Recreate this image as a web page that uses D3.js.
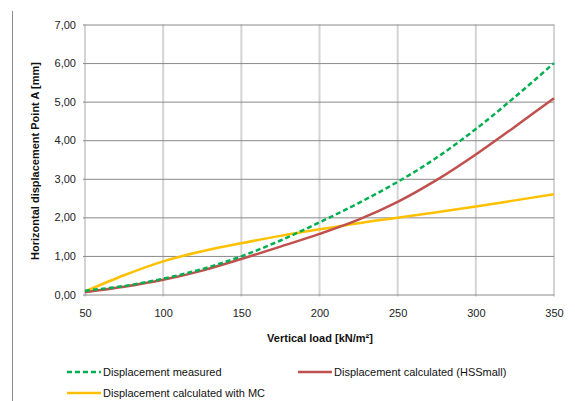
<!DOCTYPE html>
<html>
<head>
<meta charset="utf-8">
<script src="https://cdnjs.cloudflare.com/ajax/libs/d3/7.8.5/d3.min.js"></script>
<style>
  body { margin: 0; background: #fff; }
  svg { display: block; font-family: "Liberation Sans", Arial, sans-serif; }
  .tick text { fill: #222; font-size: 11px; }
</style>
</head>
<body>
<div id="chart"></div>
<script>
// vertical load [kN/m²]
const loads = [50, 75, 100, 125, 150, 175, 200, 225, 250, 275, 300, 325, 350];
// horizontal displacement [mm]
const measured = [0.10, 0.22, 0.41, 0.66, 0.99, 1.40, 1.87, 2.37, 2.92, 3.55, 4.29, 5.12, 6.00];
const hsSmall  = [0.06, 0.20, 0.38, 0.62, 0.92, 1.24, 1.57, 1.94, 2.40, 2.97, 3.63, 4.35, 5.09];
const mc       = [0.08, 0.50, 0.86, 1.12, 1.33, 1.52, 1.69, 1.85, 1.99, 2.13, 2.28, 2.44, 2.60];
const xTicks = [50, 100, 150, 200, 250, 300, 350];
const yTicks = [0, 1, 2, 3, 4, 5, 6, 7];

const series = [
  { name: "Displacement measured", values: measured, color: "#00b050", dash: "5,3" },
  { name: "Displacement calculated (HSSmall)", values: hsSmall, color: "#c0504d", dash: null },
  { name: "Displacement calculated with MC", values: mc, color: "#ffc000", dash: null }
];

const width = 575, height = 401;
const fmt = d3.format(".2f");

const svg = d3.select("#chart").append("svg")
    .attr("width", width)
    .attr("height", height);

// chart frame, only left edge visible
svg.append("line")
    .attr("x1", 12.5).attr("x2", 12.5)
    .attr("y1", 11).attr("y2", height)
    .attr("stroke", "#8c8c8c");

const x = d3.scaleLinear().domain([50, 350]).range([85, 554]);
const y = d3.scaleLinear().domain([0, 7]).range([294.5, 24.5]);

// vertical gridlines
svg.append("g")
  .selectAll("line")
  .data(xTicks)
  .join("line")
    .attr("x1", d => x(d)).attr("x2", d => x(d))
    .attr("y1", y(7)).attr("y2", y(0) + 2)
    .attr("stroke", "#d4d4d4")
    .attr("stroke-width", 2);

// horizontal gridlines (y axis ticks)
const yAxis = d3.axisLeft(y)
    .tickValues(yTicks)
    .tickSize(-(x(350) - x(50)) - 2)
    .tickPadding(7)
    .tickFormat(d => fmt(d).replace(".", ","));

svg.append("g")
    .attr("transform", "translate(" + (x(50) - 2) + ",0)")
    .call(yAxis)
    .call(g => g.select(".domain").remove())
    .call(g => g.selectAll(".tick line").attr("stroke", "#8a8a8a"));

// x axis labels
const xAxis = d3.axisBottom(x)
    .tickValues(xTicks)
    .tickSize(0)
    .tickPadding(15);

svg.append("g")
    .attr("transform", "translate(0," + y(0) + ")")
    .call(xAxis)
    .call(g => g.select(".domain").remove());

// lines
const line = d3.line()
    .x((d, i) => x(loads[i]))
    .y(d => y(d))
    .curve(d3.curveCatmullRom.alpha(0.5));

svg.append("g")
  .selectAll("path")
  .data(series.slice().reverse())
  .join("path")
    .attr("d", d => line(d.values))
    .attr("fill", "none")
    .attr("stroke", d => d.color)
    .attr("stroke-width", 2.5)
    .attr("stroke-dasharray", d => d.dash);

// axis titles
svg.append("text")
    .attr("x", 320).attr("y", 342)
    .attr("text-anchor", "middle")
    .attr("font-size", 11)
    .attr("font-weight", "bold")
    .attr("fill", "#111")
    .text("Vertical load [kN/m²]");

svg.append("text")
    .attr("transform", "translate(39,161) rotate(-90)")
    .attr("text-anchor", "middle")
    .attr("font-size", 11)
    .attr("font-weight", "bold")
    .attr("fill", "#111")
    .text("Horizontal displacement Point A [mm]");

// legend
const legendPos = [[67, 372], [298, 372], [67, 393]];
const legend = svg.append("g")
  .selectAll("g")
  .data(series)
  .join("g")
    .attr("transform", (d, i) => "translate(" + legendPos[i][0] + "," + legendPos[i][1] + ")");

legend.append("line")
    .attr("x1", 0).attr("x2", 34)
    .attr("stroke", d => d.color)
    .attr("stroke-width", 2.5)
    .attr("stroke-dasharray", d => d.dash);

legend.append("text")
    .attr("x", 36).attr("dy", "0.35em")
    .attr("font-size", 11)
    .attr("fill", "#111")
    .text(d => d.name);
</script>
</body>
</html>
